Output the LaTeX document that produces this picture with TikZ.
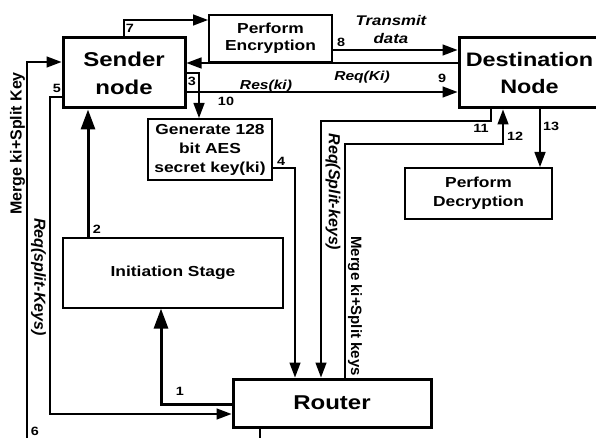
\documentclass[tikz,border=0pt]{standalone}
\usepackage{fontspec}
\setmainfont{Liberation Sans}[FakeStretch=1.2]
\newfontfamily\rotfont{Liberation Sans}
\usetikzlibrary{arrows.meta}
\begin{document}
\begin{tikzpicture}[x=1pt,y=-1pt,
  box/.style={draw, inner sep=0pt, align=center},
  bigfont/.style={font={\fontsize{20}{28}\selectfont\bfseries}},
  midfont/.style={font={\fontsize{14.5}{18}\selectfont\bfseries}},
  arr/.style={line width=1.4pt, -{Triangle[length=15pt,width=11pt]}},
  tarr/.style={line width=3pt, -{Triangle[length=20pt,width=14pt]}},
  num/.style={font={\fontsize{12}{14}\selectfont\bfseries}, inner sep=0pt},
  lab/.style={font={\fontsize{13}{15}\selectfont\bfseries\itshape}, inner sep=0pt},
  rlab/.style={inner sep=0pt}]
\fill[white] (0,0) rectangle (596,438);
\path[use as bounding box, clip] (0,0) rectangle (596,438);

% nodes
\node[box, bigfont, line width=3pt, minimum width=122pt, minimum height=70pt] (sender) at (124,73) {Sender\\node};
\node[box, font={\fontsize{14.5}{17}\selectfont\bfseries}, line width=2pt, minimum width=123pt, minimum height=47pt] (enc) at (270.5,38.5) {Perform\\Encryption};
\node[box, font={\fontsize{19.5}{27}\selectfont\bfseries}, line width=3pt, minimum width=141pt, minimum height=70pt] (dest) at (529.5,73) {Destination\\Node};
\node[box, font={\fontsize{14.5}{19}\selectfont\bfseries}, line width=2pt, minimum width=124pt, minimum height=61pt] (gen) at (210,149.5) {Generate 128\\bit AES\\secret key(ki)};
\node[box, font={\fontsize{14.5}{19}\selectfont\bfseries}, line width=2pt, minimum width=147pt, minimum height=51pt] (dec) at (478.5,193.5) {Perform\\Decryption};
\node[box, midfont, line width=1.2pt, minimum width=220pt, minimum height=70pt] (init) at (173,273) {Initiation Stage};
\node[box, bigfont, line width=3pt, minimum width=198pt, minimum height=48pt] (router) at (332,403) {Router};

% connectors
\draw[arr] (sender.north) |- (enc.west |- 0,20);
\draw[arr] (enc.east |- 0,50) -- (dest.west |- 0,50);
\draw[arr] (dest.west |- 0,63) -- (sender.east |- 0,63);
\draw[arr] (sender.east |- 0,92) -- (dest.west |- 0,92);
\draw[arr] (sender.east |- 0,73) -| (gen.north -| 199,0);
\draw[arr] (gen.east |- 0,168) -| (router.north -| 295,0);
\draw[arr] (dest.south -| 491,0) |- (321,121) -- (router.north -| 321,0);
\draw[arr] (router.north -| 345,0) |- (503,144) -- (dest.south -| 503,0);
\draw[arr] (dest.south -| 540,0) -- (dec.north -| 540,0);
\draw[arr] (sender.west |- 0,97) -| (50,414) -- (router.west |- 0,414);
\coordinate (loopcorner) at (27,450);
\draw[arr] (router.south -| 260,0) |- (loopcorner) |- (sender.west |- 0,62);
\draw[tarr] (router.west |- 0,404) -| (init.south -| 161,0);
\draw[tarr] (init.north -| 88,0) -- (sender.south -| 88,0);

% labels
\node[num] (n7) at (130,28) {7};
\node[num] (n8) at (341,42) {8};
\node[num] (n9) at (442,78) {9};
\node[num] (n10) at (226,101) {10};
\node[num] (n3) at (192,81) {3};
\node[num] (n4) at (281,161) {4};
\node[num] (n11) at (481,128) {11};
\node[num] (n12) at (515,136) {12};
\node[num] (n13) at (551,126) {13};
\node[num] (n5) at (57,88) {5};
\node[num] (n6) at (35,431) {6};
\node[num] (n1) at (180,391) {1};
\node[num] (n2) at (97,229) {2};

\node[font={\fontsize{14}{18}\selectfont\bfseries\itshape}, align=center, inner sep=0pt] (tx) at (391,30) {Transmit\\data};
\node[lab] (req) at (362,77) {Req(Ki)};
\node[lab] (res) at (266,86) {Res(ki)};

\node[rlab, rotate=90, font={\rotfont\bfseries\fontsize{16}{18}\selectfont}] (mk1) at (17.5,143.5) {Merge ki+Split Key};
\node[rlab, rotate=-90, font={\rotfont\bfseries\itshape\fontsize{16}{18}\selectfont}] (rq1) at (38.5,277) {Req(split-Keys)};
\node[rlab, rotate=-90, font={\rotfont\bfseries\itshape\fontsize{16}{18}\selectfont}] (rq2) at (333,192) {Req(Split-keys)};
\node[rlab, rotate=-90, font={\rotfont\bfseries\fontsize{15}{18}\selectfont}] (mk2) at (355,306) {Merge ki+Split keys};
\end{tikzpicture}
\end{document}
